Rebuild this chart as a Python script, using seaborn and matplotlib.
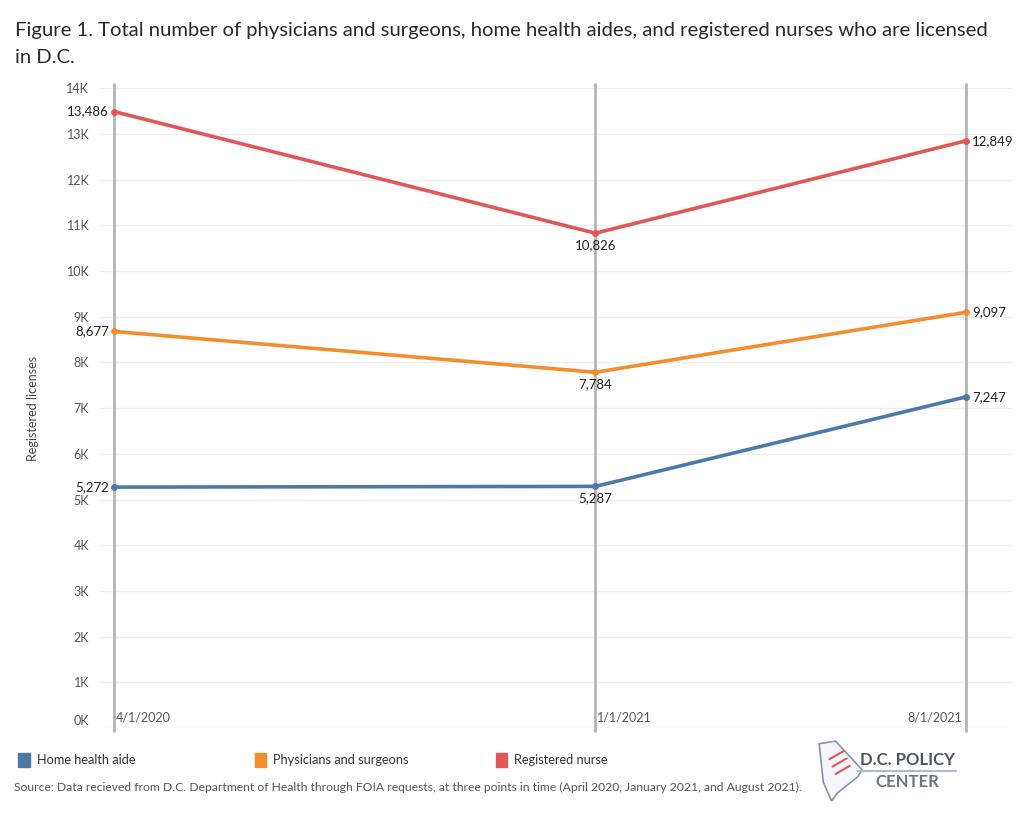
import pandas as pd
import matplotlib.pyplot as plt
import matplotlib.ticker as mticker
import matplotlib.transforms as mtransforms
import seaborn as sns

dates = ['2020-04-01', '2021-01-01', '2021-08-01']
date_labels = ['4/1/2020', '1/1/2021', '8/1/2021']
home_health_aide = [5272, 5287, 7247]
physicians = [8677, 7784, 9097]
nurses = [13486, 10826, 12849]
series_names = ['Home health aide', 'Physicians and surgeons', 'Registered nurse']
colors = ['#4e79a7', '#f28e2b', '#e15759']

rows = []
for name, vals in zip(series_names, [home_health_aide, physicians, nurses]):
    for d, v in zip(dates, vals):
        rows.append({'date': pd.Timestamp(d), 'value': v, 'series': name})
df = pd.DataFrame(rows)

sns.set_style('white')
plt.rcParams['font.family'] = ['Lato', 'DejaVu Sans']

fig = plt.figure(figsize=(10.24, 8.19), dpi=100)
ax = fig.add_axes([0.098, 0.111, 0.89, 0.7814])

# vertical date lines
for d in dates:
    ax.axvline(pd.Timestamp(d), ymin=-0.004, ymax=1.006, color='#b4b4b4', lw=2, zorder=1, clip_on=False)

sns.lineplot(data=df, x='date', y='value', hue='series', palette=colors, marker='o',
             markersize=5, markeredgewidth=0, linewidth=2.6, legend=False, ax=ax, zorder=3)

# value labels
for vals in [home_health_aide, physicians, nurses]:
    for i, (d, v) in enumerate(zip(dates, vals)):
        x = pd.Timestamp(d)
        txt = f'{v:,}'
        if i == 0:
            ax.annotate(txt, (x, v), xytext=(-4, 0), textcoords='offset points', ha='right', va='center', fontsize=9.5, color='#222222')
        elif i == 1:
            ax.annotate(txt, (x, v), xytext=(0, -4), textcoords='offset points', ha='center', va='top', fontsize=9.5, color='#222222')
        else:
            ax.annotate(txt, (x, v), xytext=(4, 0), textcoords='offset points', ha='left', va='center', fontsize=9.5, color='#222222')

# date labels at the bottom
for i, (d, lab) in enumerate(zip(dates, date_labels)):
    x = pd.Timestamp(d)
    if i < 2:
        ax.annotate(lab, (x, 0), xytext=(1, 3), textcoords='offset points', ha='left', va='bottom', fontsize=9, color='#555555')
    else:
        ax.annotate(lab, (x, 0), xytext=(-3, 3), textcoords='offset points', ha='right', va='bottom', fontsize=9, color='#555555')

ax.set_xlim(pd.Timestamp('2020-03-24'), pd.Timestamp('2021-08-27'))
ax.set_ylim(0, 14000)
ax.yaxis.set_major_locator(mticker.MultipleLocator(1000))
ax.yaxis.set_major_formatter(mticker.FuncFormatter(lambda v, p: f'{int(v/1000)}K'))
ax.set_xticks([])
ax.tick_params(axis='y', labelsize=9, colors='#555555', length=0, pad=8)
ax.grid(axis='y', color='#eeeeee', lw=1)
ax.set_axisbelow(True)
for s in ax.spines.values():
    s.set_visible(False)
ax.set_xlabel('')
ax.set_ylabel('Registered licenses', fontsize=9, color='#444444', labelpad=20)

# lift the 0K label a little above its gridline, as in the original
fig.canvas.draw()
lift = mtransforms.ScaledTranslation(0, 6 / 72, fig.dpi_scale_trans)
for lab in ax.get_yticklabels():
    if lab.get_text() == '0K':
        lab.set_transform(lab.get_transform() + lift)

# title
fig.text(0.0146, 0.963, 'Figure 1. Total number of physicians and surgeons, home health aides, and registered nurses who are licensed',
         fontsize=14.6, color='#2a2a2a', va='center')
fig.text(0.0146, 0.930, 'in D.C.', fontsize=14.6, color='#2a2a2a', va='center')

# legend
legend_x = [0.018, 0.249, 0.484]
for lx, name, c in zip(legend_x, series_names, colors):
    fig.patches.append(plt.Rectangle((lx, 0.064), 0.011, 0.016, transform=fig.transFigure, color=c))
    fig.text(lx + 0.018, 0.072, name, fontsize=9.2, color='#333333', va='center')

fig.text(0.014, 0.039, 'Source: Data recieved from D.C. Department of Health through FOIA requests, at three points in time (April 2020, January 2021, and August 2021).',
         fontsize=8.7, color='#555555', va='center')

# logo
fig.text(0.886, 0.072, 'D.C. POLICY', fontsize=12, fontweight='bold', color='#4a5566', ha='center', va='center')
fig.lines.append(plt.Line2D([0.838, 0.934], [0.0586, 0.0586], transform=fig.transFigure, color='#aabbd2', lw=1.5))
fig.text(0.886, 0.045, 'CENTER', fontsize=12, fontweight='bold', color='#6b7585', ha='center', va='center')
logo_x = [0.800, 0.816, 0.842, 0.838, 0.818, 0.812, 0.804]
logo_y = [0.092, 0.095, 0.060, 0.052, 0.032, 0.022, 0.045]
fig.patches.append(plt.Polygon(list(zip(logo_x, logo_y)), closed=True, transform=fig.transFigure,
                               facecolor='#f4f6f9', edgecolor='#8a939f', lw=1.2))
for k in range(3):
    fig.lines.append(plt.Line2D([0.810 + k * 0.003, 0.824 + k * 0.003], [0.073 - k * 0.009, 0.083 - k * 0.009],
                                transform=fig.transFigure, color='#e15759', lw=1.5))

fig.savefig('out.png', dpi=100)
